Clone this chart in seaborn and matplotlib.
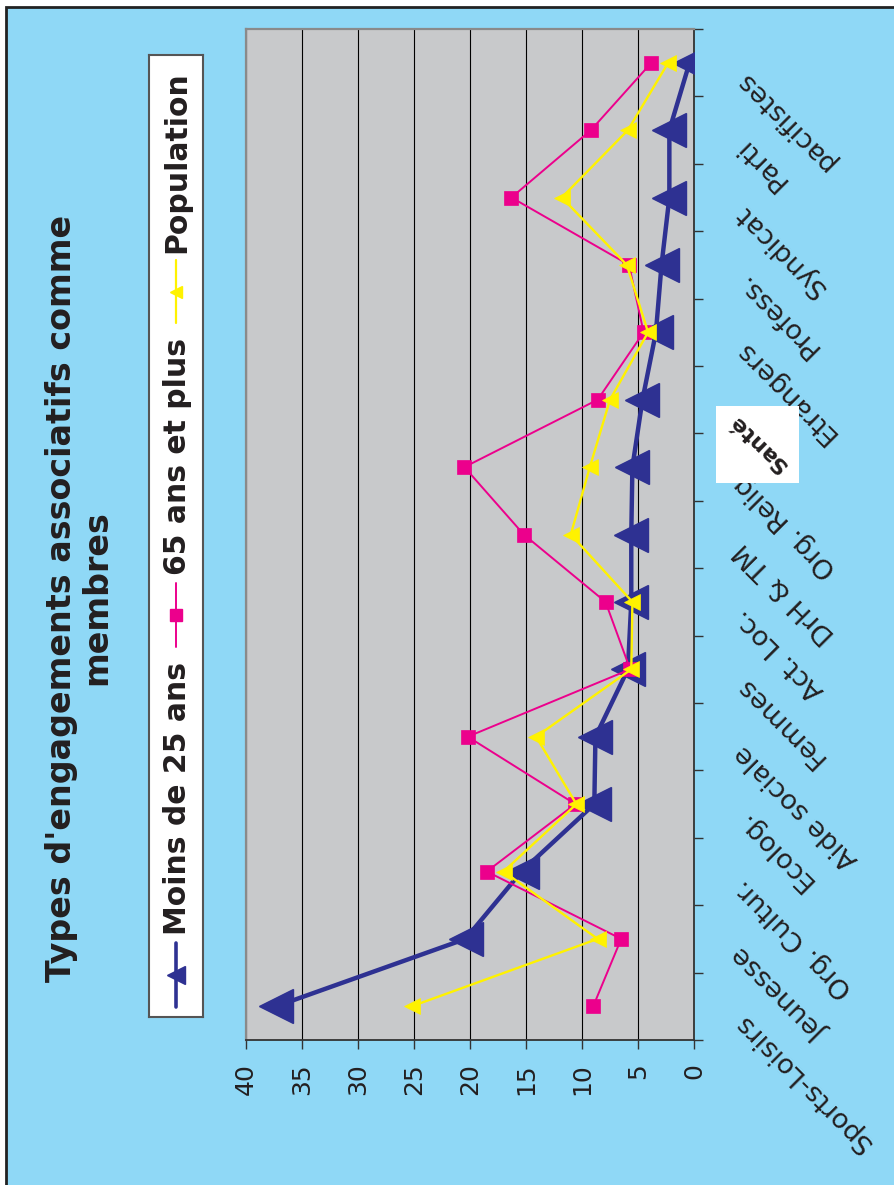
import numpy as np
import pandas as pd
import matplotlib
matplotlib.use("Agg")
import matplotlib.pyplot as plt
from matplotlib.patches import Rectangle
from matplotlib.transforms import blended_transform_factory, ScaledTranslation
import seaborn as sns

# ---- data -------------------------------------------------------------
categories = ["Sports-Loisirs", "Jeunesse", "Org. Cultur.", "Ecolog.",
              "Aide sociale", "Femmes", "Act. Loc.", "DrH & TM",
              "Org. Relig", "Santé", "Etrangers", "Profess.",
              "Syndicat", "Parti", "pacifistes"]
moins_25 = [37.3, 20.4, 15.4, 8.9, 8.8, 5.9, 5.6, 5.6, 5.5, 4.6, 3.4, 2.9, 2.2, 2.2, 0.4]
plus_65 = [9.0, 6.5, 18.5, 10.6, 20.2, 5.7, 7.9, 15.2, 20.5, 8.6, 4.5, 5.8, 16.3, 9.2, 3.8]
population = [25.2, 8.6, 17.0, 10.5, 14.1, 5.6, 5.5, 11.0, 9.3, 7.5, 4.1, 6.0, 11.8, 5.9, 2.3]
series_names = ["Moins de 25 ans", "65 ans et plus", "Population"]
value_ticks = [0, 5, 10, 15, 20, 25, 30, 35, 40]
title = "Types d'engagements associatifs comme\nmembres"

# ---- styling ----------------------------------------------------------
SKY = "#8FD8F6"
PLOT_BG = "#C8C9CB"
INK = "#231F20"
NAVY = "#2E3192"
MAGENTA = "#EC008C"
YELLOW = "#FFF200"

W, H, DPI = 894, 1185, 100
fx = lambda px: px / W
fy = lambda py: 1 - py / H

fig = plt.figure(figsize=(W / DPI, H / DPI), dpi=DPI)
fig.patch.set_facecolor("white")
plt.rcParams["font.family"] = ["DejaVu Sans"]

# sky-blue chart area with dark frame
fig.add_artist(Rectangle((fx(6), -0.05), 1.2, fy(7) + 0.05,
                         transform=fig.transFigure, facecolor=SKY,
                         edgecolor="#222222", linewidth=2, zorder=0))

df = pd.DataFrame({
    "pos": np.tile(np.arange(len(categories)), 3),
    "categorie": categories * 3,
    "serie": np.repeat(series_names, len(categories)),
    "valeur": moins_25 + plus_65 + population,
})

ax = fig.add_axes([fx(246), fy(1040), fx(694) - fx(246), fy(29) - fy(1040)])
ax.set_facecolor(PLOT_BG)

styles = {
    "Moins de 25 ans": dict(color=NAVY, linewidth=3.2, marker="<", markersize=25,
                            mec=NAVY, mew=1, zorder=3),
    "65 ans et plus": dict(color=MAGENTA, linewidth=1.4, marker="s", markersize=9.5,
                           mec=MAGENTA, mew=0.5, zorder=4),
    "Population": dict(color=YELLOW, linewidth=1.7, marker="<", markersize=11,
                       mec=YELLOW, mew=0.5, zorder=5),
}
for name in series_names:
    sub = df[df["serie"] == name]
    sns.lineplot(data=sub, x="valeur", y="pos", orient="y", sort=True,
                 errorbar=None, legend=False, ax=ax, **styles[name])

# value axis (horizontal, reversed)
ax.set_xlim(40, 0)
ax.set_xticks(value_ticks)
ax.set_xticklabels([str(v) for v in value_ticks])
ax.tick_params(axis="x", direction="out", length=6.5, width=1, color="#333333",
               pad=10, labelsize=18, labelcolor=INK, labelrotation=90)
plt.setp(ax.get_xticklabels(), ha="right", va="center", rotation_mode="anchor")
ax.xaxis.grid(True, color="black", linewidth=0.8)
ax.yaxis.grid(False)
ax.set_axisbelow(True)
ax.set_xlabel("")
ax.set_ylabel("")

# category axis (vertical, on the right)
ax.set_ylim(-0.5, len(categories) - 0.5)
ax.set_yticks(np.arange(-0.5, len(categories), 1.0))
ax.yaxis.tick_right()
ax.tick_params(axis="y", direction="out", length=6.5, width=1, color="#333333",
               labelright=False, labelleft=False, left=False, right=True)

for side in ("left", "top"):
    ax.spines[side].set_color("#8A8A8A")
    ax.spines[side].set_linewidth(1.6)
for side in ("right", "bottom"):
    ax.spines[side].set_color("#333333")
    ax.spines[side].set_linewidth(1.3)

# slanted category labels
lab_tr = blended_transform_factory(ax.transAxes, ax.transData) + \
    ScaledTranslation(36 / 72, -5 / 72, fig.dpi_scale_trans)
for i, cat in enumerate(categories):
    if cat == "Santé":
        continue
    ax.text(1, i, cat, transform=lab_tr, rotation=135, rotation_mode="anchor",
            ha="right", va="baseline", fontsize=19.5, color=INK, clip_on=False)

# "Santé" pasted in a white box
fig.add_artist(Rectangle((fx(716), fy(483)), fx(799) - fx(716), fy(406) - fy(483),
                         transform=fig.transFigure, facecolor="white",
                         edgecolor="none", zorder=6))
fig.text(fx(758), fy(443), "Santé", rotation=136, ha="center", va="center",
         fontsize=16, fontweight="bold", color=INK, zorder=7)

# title
fig.text(fx(79), fy(598), title, rotation=90, ha="center", va="center",
         ma="center", fontsize=24, fontweight="bold", color=INK, linespacing=1.1)

# vertical legend box
lax = fig.add_axes([fx(149), fy(1017), fx(203) - fx(149), fy(55) - fy(1017)])
lax.set_xlim(149, 203)
lax.set_ylim(1017, 55)
lax.set_xticks([])
lax.set_yticks([])
lax.set_facecolor("white")
for s in lax.spines.values():
    s.set_color("#555555")
    s.set_linewidth(1.5)

legend_rows = [
    ("Moins de 25 ans", NAVY, 2.6, "<", 13, 943, 1007, 935),
    ("65 ans et plus", MAGENTA, 1.4, "s", 8, 583, 647, 575),
    ("Population", YELLOW, 1.6, "<", 9, 260, 323, 253),
]
for label, col, lw, mk, ms, y0, y1, ty in legend_rows:
    lax.plot([176, 176], [y0, y1], color=col, linewidth=lw, solid_capstyle="round")
    lax.plot([176], [(y0 + y1) / 2], marker=mk, markersize=ms, color=col, mec=col)
    lax.text(177, ty, label, rotation=90, rotation_mode="anchor", ha="left",
             va="center", fontsize=21.5, fontweight="bold", color=INK)

fig.savefig("out.png", dpi=DPI, facecolor=fig.get_facecolor())
